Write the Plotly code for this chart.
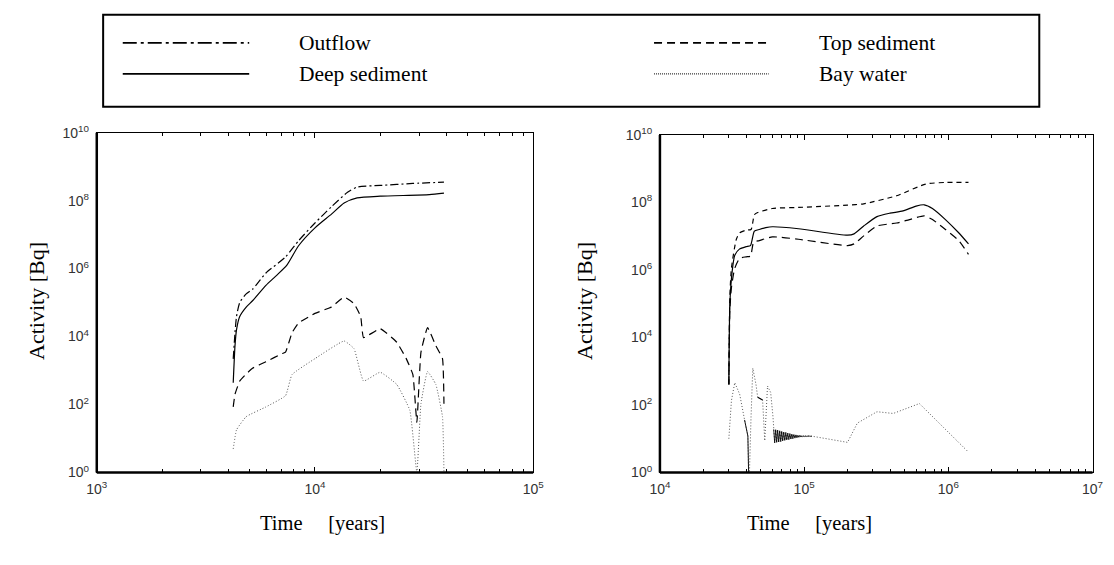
import plotly.graph_objects as go

W, H = 1114, 565

# ---------------- data : left panel ----------------
t_left_outflow = [4220, 4300, 4370, 4520, 4840, 5190, 5960, 7330, 8410, 10000, 11900, 14100, 15600, 19900, 28100, 39000]
a_left_outflow = [2.2e3, 1.3e4, 3.9e4, 1.0e5, 1.8e5, 2.5e5, 7.4e5, 2.2e6, 6.6e6, 2.2e7, 6.6e7, 1.76e8, 2.5e8, 2.8e8, 3.2e8, 3.5e8]

t_left_deep = [4220, 4300, 4370, 4520, 4840, 5190, 5960, 6610, 7450, 8410, 10000, 11900, 13600, 15600, 19900, 33400, 39000]
a_left_deep = [436, 5.4e3, 1.6e4, 3.9e4, 7.4e4, 1.15e5, 3.2e5, 6.0e5, 1.29e6, 4.7e6, 1.58e7, 4.0e7, 8.5e7, 1.2e8, 1.35e8, 1.5e8, 1.66e8]

t_left_top = [4220, 4300, 4520, 4840, 5190, 5960, 7080, 7330, 7850, 8410, 10000, 11900, 13600, 15100, 16200, 16700,
              19900, 23700, 26200, 28100, 29300, 30600, 32800, 35800, 38400, 39000]
a_left_top = [85, 200, 490, 790, 1180, 1820, 3160, 3470, 1.29e4, 2.5e4, 4.8e4, 7.4e4, 1.45e5, 9.3e4, 3.9e4, 9.3e3,
              1.7e4, 6.8e3, 2.24e3, 760, 30, 3470, 1.82e4, 5.4e3, 2.24e3, 105]

t_left_bay = [4220, 4370, 4840, 5960, 7330, 7850, 10000, 13600, 15100, 16700, 19900, 23700, 27200, 29300, 30600, 32800, 35800, 38400, 39000]
a_left_bay = [4.9, 18, 44, 85, 182, 760, 2240, 7400, 4400, 490, 890, 390, 68, 1.0, 105, 930, 390, 44, 1.0]

# ---------------- data : right panel ----------------
t_right_top = [30060, 30550, 31330, 33880, 35730, 39630, 42850, 45190, 47640, 60260, 91410, 200000, 259000, 438000, 698000, 955000, 1380000]
a_right_top = [407, 1.6e5, 1.12e6, 8.1e6, 1.26e7, 1.51e7, 1.58e7, 4.3e7, 5.0e7, 6.6e7, 7.1e7, 8.3e7, 9.1e7, 1.58e8, 3.5e8, 3.9e8, 3.9e8]

t_right_deep = [30060, 30550, 31700, 33040, 35730, 39630, 42460, 45190, 48870, 54200, 60260, 91410, 200000, 222000, 259000,
                320000, 394000, 485000, 598000, 681000, 776000, 955000, 1180000, 1380000]
a_right_deep = [407, 1.0e5, 9.1e5, 2.7e6, 4.2e6, 4.9e6, 5.25e6, 1.41e7, 1.58e7, 1.78e7, 1.9e7, 1.66e7, 1.07e7, 1.17e7, 2.0e7,
                3.8e7, 4.8e7, 5.6e7, 7.8e7, 8.5e7, 6.6e7, 3.1e7, 1.26e7, 5.9e6]

t_right_low = [30060, 30550, 31330, 33040, 35730, 39630, 42460, 44670, 48870, 60260, 91410, 200000, 222000, 259000,
               320000, 438000, 538000, 681000, 776000, 955000, 1180000, 1380000]
a_right_low = [407, 6.3e4, 3.0e5, 1.12e6, 2.2e6, 2.45e6, 2.57e6, 6.6e6, 7.4e6, 9.5e6, 8.1e6, 5.25e6, 5.9e6, 1.02e7,
               2.0e7, 2.45e7, 3.1e7, 4.0e7, 3.1e7, 1.58e7, 7.4e6, 2.9e6]

t_right_bay_a = [30060, 31330, 33040, 35730, 38640, 40740, 41200, 41770, 42850, 44060, 46350, 47640, 51520, 53330, 55720, 58610, 60810]
a_right_bay_a = [10, 135, 457, 209, 36, 12, 1.0, 1.0, 45, 1230, 407, 170, 141, 8.7, 363, 235, 45]

t_right_bay_osc = [61500, 62500, 63500, 64500, 65500, 66600, 67700, 68800, 69900, 71000, 72200, 73400, 74600, 75800,
                   77000, 78300, 79600, 80900, 82200, 83500, 84900, 86300, 87700, 89100, 90500, 92000, 93500, 95000,
                   96500, 98000, 99600, 101200, 102800, 104500, 106200, 107900, 109600, 111400, 113200]
a_right_bay_osc = [19, 7.6, 18.5, 7.8, 18, 8.0, 17.2, 8.3, 16.5, 8.6, 15.8, 8.9, 15.2, 9.2, 14.6, 9.5, 14.1, 9.8, 13.7,
                   10.1, 13.3, 10.4, 13.0, 10.7, 12.7, 11.0, 12.5, 11.2, 12.3, 11.4, 12.2, 11.5, 12.1, 11.6, 12.0, 11.7,
                   11.9, 11.8, 11.9]

t_right_bay_b = [200000, 234000, 320000, 415000, 630000, 818000, 1060000, 1380000]
a_right_bay_b = [7.8, 29, 63, 56, 110, 36, 12, 4.0]

# ---------------- ticks ----------------
x_left_ticks = [1e3, 1e4, 1e5]
x_left_labels = ["10<sup>3</sup>", "10<sup>4</sup>", "10<sup>5</sup>"]
x_right_ticks = [1e4, 1e5, 1e6, 1e7]
x_right_labels = ["10<sup>4</sup>", "10<sup>5</sup>", "10<sup>6</sup>", "10<sup>7</sup>"]
y_ticks = [1e0, 1e2, 1e4, 1e6, 1e8, 1e10]
y_labels = ["10<sup>0</sup>", "10<sup>2</sup>", "10<sup>4</sup>", "10<sup>6</sup>", "10<sup>8</sup>", "10<sup>10</sup>"]

legend_names = ["Outflow", "Deep sediment", "Top sediment", "Bay water"]

# ---------------- styles ----------------
DASHDOT = "8px,3px,2px,3px"
LONGDASH = "8px,5px"
SHORTDASH = "5px,4px"
DOT = "1px,2px"

fig = go.Figure()


def add(x, y, dash, xa, ya, name, color="black", width=1.2, smooth=0.6):
    fig.add_trace(go.Scatter(x=x, y=y, mode="lines", name=name, xaxis=xa, yaxis=ya,
                             line=dict(color=color, width=width, dash=dash, shape="spline", smoothing=smooth),
                             showlegend=False, hoverinfo="skip"))


def add_lin(x, y, dash, xa, ya, name, color="black", width=1.0):
    fig.add_trace(go.Scatter(x=x, y=y, mode="lines", name=name, xaxis=xa, yaxis=ya,
                             line=dict(color=color, width=width, dash=dash),
                             showlegend=False, hoverinfo="skip"))


# left panel
add(t_left_outflow, a_left_outflow, DASHDOT, "x", "y", "Outflow")
add(t_left_deep, a_left_deep, "solid", "x", "y", "Deep sediment")
add(t_left_top, a_left_top, LONGDASH, "x", "y", "Top sediment", smooth=0.35)
add(t_left_bay, a_left_bay, DOT, "x", "y", "Bay water", color="#555", width=1.0, smooth=0.35)

# right panel
add(t_right_top, a_right_top, SHORTDASH, "x2", "y2", "Top sediment")
add(t_right_deep, a_right_deep, "solid", "x2", "y2", "Deep sediment")
add(t_right_low, a_right_low, LONGDASH, "x2", "y2", "Outflow")
t_right_bay = t_right_bay_a + t_right_bay_osc + t_right_bay_b
a_right_bay = a_right_bay_a + a_right_bay_osc + a_right_bay_b
add_lin(t_right_bay, a_right_bay, DOT, "x2", "y2", "Bay water", color="#555")
# dense (dark-looking) parts of the bay water series
add_lin(t_right_bay_a[4:7], a_right_bay_a[4:7], "solid", "x2", "y2", "Bay water", width=0.9)
add_lin(t_right_bay_a[11:13], a_right_bay_a[11:13], "solid", "x2", "y2", "Bay water", width=1.2)
add_lin(t_right_bay_osc, a_right_bay_osc, "solid", "x2", "y2", "Bay water", width=0.8)

# ---------------- axes ----------------
TICKFONT = dict(family="Liberation Sans, Arial", size=14, color="#333")


def xaxis(dom, rng, tv, tt):
    minor_vals = []
    for e in range(rng[0], rng[1]):
        for k in range(2, 10):
            minor_vals.append(k * 10 ** e)
    return dict(type="log", domain=dom, range=list(rng), tickvals=tv, ticktext=tt, ticks="inside", ticklen=5,
                tickwidth=1, tickcolor="black", showline=True, linecolor="black", linewidth=1, mirror="ticks",
                showgrid=False, zeroline=False, tickfont=TICKFONT, ticklabelstandoff=4,
                minor=dict(tickvals=minor_vals, ticks="inside", ticklen=3, tickcolor="black", showgrid=False))


def yaxis(dom, anchor):
    return dict(type="log", domain=dom, range=[0, 10], tickvals=y_ticks, ticktext=y_labels, ticks="",
                showline=True, linecolor="black", linewidth=1, mirror=True, showgrid=False, zeroline=False,
                tickfont=TICKFONT, ticklabelstandoff=4, anchor=anchor)


xl = (87.5 / W, 532.7 / W)
xr = (662 / W, 1103.3 / W)
yb = 1 - 477.7 / H
fig.update_layout(
    xaxis=xaxis(xl, (3, 5), x_left_ticks, x_left_labels) | dict(anchor="y"),
    yaxis=yaxis((yb, 1 - 126.7 / H), "x"),
    xaxis2=xaxis(xr, (4, 7), x_right_ticks, x_right_labels) | dict(anchor="y2"),
    yaxis2=yaxis((yb, 1 - 129 / H), "x2"),
)

shapes = []
# heavy left/bottom axis lines
for xr_, yr_ in (("x domain", "y domain"), ("x2 domain", "y2 domain")):
    shapes.append(dict(type="line", xref=xr_, yref=yr_, x0=0, x1=0, y0=0, y1=1, line=dict(color="black", width=2.5)))
    shapes.append(dict(type="line", xref=xr_, yref=yr_, x0=0, x1=1, y0=0, y1=0, line=dict(color="black", width=2.5)))

# legend frame
shapes.append(dict(type="rect", xref="paper", yref="paper", x0=94 / W, x1=1049 / W, y0=1 - 100 / H, y1=1 - 5 / H,
                   line=dict(color="black", width=2)))
leg_styles = ["14px,4px,3px,4px", "solid", "8px,5px", "1px,1px"]
leg_pos = [(114, 243, 34), (114, 243, 66), (656, 773, 34), (656, 773, 66)]
text_x = [292, 292, 822, 822]
annotations = []
for name, st, (xa0, xa1, yy), tx in zip(legend_names, leg_styles, leg_pos, text_x):
    shapes.append(dict(type="line", xref="paper", yref="paper", x0=xa0 / W, x1=xa1 / W, y0=1 - yy / H, y1=1 - yy / H,
                       line=dict(color="black", width=1.8 if st != "1px,1px" else 1, dash=st)))
    annotations.append(dict(text=name, xref="paper", yref="paper", x=tx / W, y=1 - yy / H, xanchor="left",
                            yanchor="middle", showarrow=False,
                            font=dict(family="Liberation Serif, Times New Roman", size=21.5, color="black")))

TITLEFONT = dict(family="Liberation Serif, Times New Roman", size=22, color="black")
for cx in (318, 815):
    annotations.append(dict(text="Time     [years]", xref="paper", yref="paper", x=cx / W, y=1 - 530 / H,
                            xanchor="center", yanchor="middle", showarrow=False,
                            font=dict(family="Liberation Serif, Times New Roman", size=20.5, color="black")))
for cx in (26, 585):
    annotations.append(dict(text="Activity [Bq]", xref="paper", yref="paper", x=cx / W, y=1 - 300 / H,
                            xanchor="center", yanchor="middle", textangle=-90, showarrow=False, font=TITLEFONT))

fig.update_layout(width=W, height=H, margin=dict(l=0, r=0, t=0, b=0), autosize=False,
                  paper_bgcolor="white", plot_bgcolor="white", showlegend=False,
                  shapes=shapes, annotations=annotations)

fig.write_html("out.html", config={"displayModeBar": False, "staticPlot": True},
               post_script="document.body.style.margin='0px';document.body.style.overflow='hidden';")
